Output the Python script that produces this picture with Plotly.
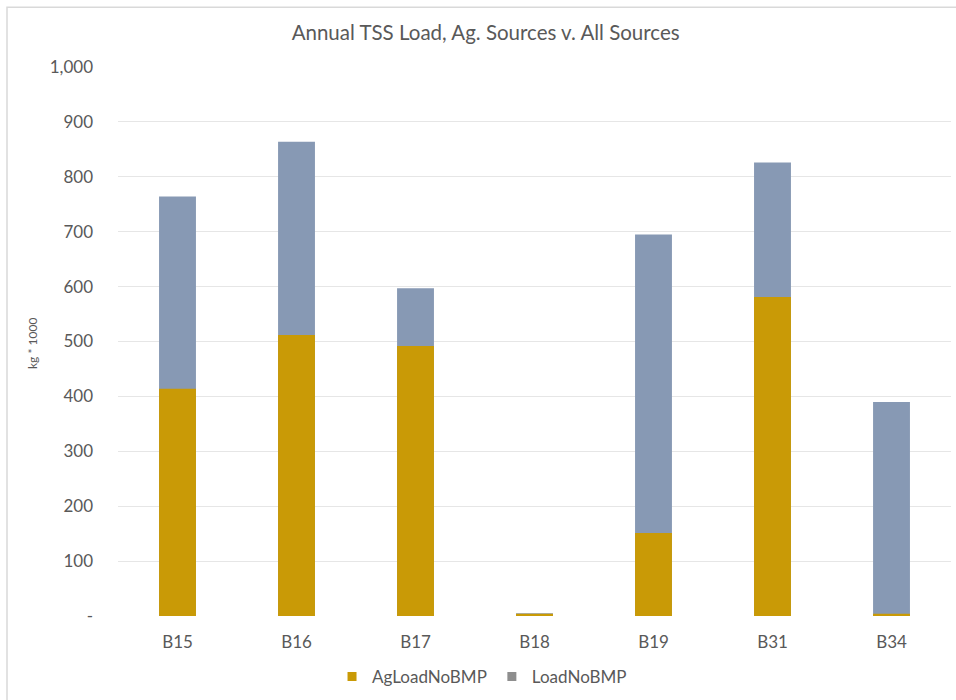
import plotly.graph_objects as go

# Watershed basins and annual TSS loads (kg * 1000)
basins = ["B15", "B16", "B17", "B18", "B19", "B31", "B34"]
ag_load_no_bmp = [414, 512, 492, 4, 151, 581, 4]
load_no_bmp = [764, 864, 597, 5, 695, 826, 390]

y_tick_vals = [0, 100, 200, 300, 400, 500, 600, 700, 800, 900, 1000]
y_tick_text = ["-", "100", "200", "300", "400", "500", "600", "700", "800", "900", "1,000"]

GOLD = "#C99A06"
BLUEGREY = "#8799B4"
LEGEND_GREY = "#8E8E8E"
TEXT = "#595959"
FONT = "Lato, 'Open Sans', sans-serif"

fig = go.Figure()

# Total load drawn behind, agricultural share overlaid in front
fig.add_trace(go.Bar(x=basins, y=load_no_bmp, name="LoadNoBMP",
                     marker=dict(color=BLUEGREY, line=dict(width=0)),
                     showlegend=False))
fig.add_trace(go.Bar(x=basins, y=ag_load_no_bmp, name="AgLoadNoBMP",
                     marker=dict(color=GOLD, line=dict(width=0)),
                     showlegend=False))

# Legend entries
fig.add_trace(go.Scatter(x=[None], y=[None], mode="markers", name="AgLoadNoBMP",
                         marker=dict(symbol="square", size=9, color=GOLD)))
fig.add_trace(go.Scatter(x=[None], y=[None], mode="markers", name="LoadNoBMP",
                         marker=dict(symbol="square", size=9, color=LEGEND_GREY)))

fig.update_layout(
    width=956, height=700,
    margin=dict(l=118, r=5, t=67, b=82),
    paper_bgcolor="white", plot_bgcolor="white",
    barmode="overlay", bargap=0.69,
    font=dict(family=FONT, color=TEXT, size=17),
    title=dict(text="Annual TSS Load, Ag. Sources v. All Sources",
               x=0.508, xanchor="center", y=1 - 33 / 700, yanchor="middle",
               font=dict(size=20.5, color=TEXT, family=FONT)),
    legend=dict(orientation="h", x=0.437, xanchor="center",
                y=-0.111, yanchor="middle",
                font=dict(size=17, color=TEXT), itemwidth=30,
                bgcolor="rgba(0,0,0,0)"),
    xaxis=dict(showgrid=False, showline=False, zeroline=False, ticks="",
               tickfont=dict(size=17, color=TEXT), ticklabelstandoff=14,
               fixedrange=True),
    yaxis=dict(range=[0, 1000], tickvals=y_tick_vals, ticktext=y_tick_text,
               showgrid=True, gridcolor="#E6E6E6", gridwidth=1,
               zeroline=False, showline=False, ticks="",
               tickfont=dict(size=17, color=TEXT), ticklabelstandoff=24),
    annotations=[dict(text="kg * 1000", xref="paper", yref="paper",
                      x=(33 - 118) / 833, y=(618 - 345) / 551,
                      textangle=-90, showarrow=False,
                      font=dict(size=12, color=TEXT, family=FONT),
                      xanchor="center", yanchor="middle")],
    shapes=[dict(type="rect", xref="paper", yref="paper",
                 x0=(7 - 118) / 833, x1=1.2, y0=-0.3, y1=(618 - 7) / 551,
                 line=dict(color="#D9D9D9", width=1.5), layer="below")],
)

fig.write_html("out.html")
